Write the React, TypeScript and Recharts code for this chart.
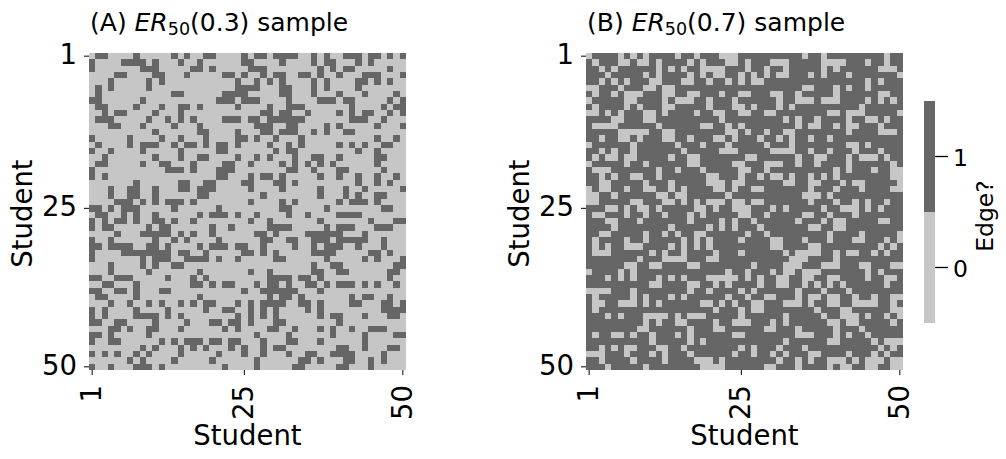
import { Bar, BarChart, Cell, Scatter, ScatterChart, XAxis, YAxis } from "recharts"

const font = "'DejaVu Sans', sans-serif"
const edgeColor = "#666666"
const noEdgeColor = "#c6c6c6"

const students = Array.from({ length: 50 }, (_, i) => i + 1)
const tickStudents = [1, 25, 50]
const edgeLevels = [1, 0]

// (A): for each student, the 0-based students they share an edge with
const sampleAEdges = [
  [1, 2, 7, 13, 15, 18, 19, 24, 26, 27, 29, 30, 31, 32, 35, 37, 40, 41, 42, 44, 45, 47, 49],
  [0, 5, 6, 7, 8, 10, 14, 17, 24, 25, 30, 35, 37, 38, 42, 44],
  [0, 8, 9, 10, 16, 17, 19, 25, 26, 27, 36, 38, 40, 41, 47],
  [4, 5, 10, 11, 15, 21, 22, 24, 27, 29, 30, 33, 34, 36, 39, 43, 44, 45, 49],
  [3, 9, 11, 23, 26, 28, 30, 35, 37, 42, 43, 45, 47],
  [1, 3, 9, 23, 24, 25, 26, 30, 31, 35, 37, 42],
  [1, 13, 14, 21, 22, 23, 24, 30, 31, 35, 39, 43, 48],
  [0, 1, 8, 20, 21, 22, 24, 25, 26, 31, 36, 37, 38, 40, 41, 47, 49],
  [1, 2, 7, 11, 14, 15, 17, 23, 28, 31, 32, 33, 41, 46, 48, 49],
  [2, 4, 5, 10, 14, 27, 28, 30, 31, 34, 39, 41, 43, 44, 47, 49],
  [1, 2, 3, 9, 12, 14, 16, 21, 22, 23, 25, 26, 28, 29, 30, 31, 32, 33, 41, 42, 43, 46],
  [3, 4, 8, 13, 17, 26, 27, 28, 31, 32, 37, 39, 45, 49],
  [10, 17, 18, 23, 27, 28, 30, 31, 32, 35, 37, 40, 41],
  [0, 6, 11, 14, 18, 23, 24, 26, 29, 33, 45, 48],
  [1, 6, 8, 9, 10, 13, 15, 16, 18, 20, 21, 23, 28, 31, 33, 39, 41, 43, 46, 47],
  [0, 3, 8, 14, 20, 21, 29, 31, 32, 42, 45],
  [2, 10, 14, 17, 18, 23, 26, 28, 32, 35, 36, 39, 45, 46],
  [1, 2, 8, 11, 12, 16, 21, 22, 25, 30, 32, 34, 36, 38, 45],
  [0, 12, 13, 14, 16, 20, 21, 22, 31, 32, 35, 39, 40, 46],
  [0, 2, 20, 21, 25, 27, 28, 30, 36, 39, 42, 45, 48],
  [7, 14, 15, 18, 19, 24, 25, 29, 30, 32, 42, 45, 47],
  [3, 6, 7, 10, 14, 15, 17, 18, 19, 25, 30, 36, 40, 43, 49],
  [3, 6, 7, 10, 17, 18, 27, 36, 40, 42, 45, 46],
  [4, 5, 6, 8, 10, 12, 13, 14, 16, 25, 30, 32, 39, 41, 42, 43, 45],
  [0, 1, 3, 5, 6, 7, 13, 20, 30, 31, 37, 46, 47],
  [1, 2, 5, 7, 10, 17, 19, 20, 21, 23, 26, 31, 34, 39, 40, 41, 42],
  [0, 2, 4, 5, 7, 10, 11, 13, 16, 25, 28, 36, 44, 48, 49],
  [0, 2, 3, 9, 11, 12, 19, 22, 28, 29, 30, 31, 37, 39, 40, 41, 45, 46, 47],
  [4, 8, 9, 10, 11, 12, 14, 16, 19, 26, 27, 29, 34, 35, 36, 37, 38, 39, 43],
  [0, 3, 10, 13, 15, 20, 27, 28, 31, 32, 35, 36, 37, 39, 40, 41, 42, 43, 46],
  [0, 1, 3, 4, 5, 6, 9, 10, 12, 17, 19, 20, 21, 23, 24, 27, 32, 35, 37, 38, 39, 42, 46],
  [0, 5, 6, 7, 8, 9, 10, 11, 12, 14, 15, 18, 24, 25, 27, 29, 35, 36, 37, 38, 44, 45, 47],
  [0, 8, 10, 11, 12, 15, 16, 17, 18, 20, 23, 29, 30, 37, 43, 45, 49],
  [3, 8, 10, 13, 14, 35, 38, 39, 48, 49],
  [3, 9, 17, 25, 28, 35, 36, 39, 40, 47, 48],
  [0, 1, 4, 5, 6, 12, 16, 18, 28, 29, 30, 31, 33, 34, 36, 47],
  [2, 3, 7, 16, 17, 19, 21, 22, 26, 28, 29, 31, 34, 35, 37, 39, 40, 41, 43, 45, 48],
  [0, 1, 4, 5, 7, 11, 12, 24, 27, 28, 29, 30, 31, 32, 36],
  [1, 2, 7, 17, 28, 30, 31, 33, 41, 43, 44, 47],
  [3, 6, 9, 11, 14, 16, 18, 19, 23, 25, 27, 28, 29, 30, 33, 34, 36, 41, 42, 46, 47, 49],
  [0, 2, 7, 12, 18, 21, 22, 25, 27, 29, 34, 36, 46, 47, 48, 49],
  [0, 2, 7, 8, 9, 10, 12, 14, 23, 25, 27, 29, 36, 38, 39, 43, 47, 48],
  [0, 1, 4, 5, 10, 15, 19, 20, 22, 23, 25, 29, 30, 39],
  [3, 4, 6, 9, 10, 14, 21, 23, 28, 29, 32, 36, 38, 41, 44, 45, 46],
  [0, 1, 3, 9, 26, 31, 38, 43, 48, 49],
  [0, 3, 4, 11, 13, 15, 16, 17, 19, 20, 22, 23, 27, 31, 32, 36, 43],
  [8, 10, 14, 16, 18, 22, 24, 27, 29, 30, 39, 40, 43, 47, 48],
  [0, 2, 4, 7, 9, 14, 20, 24, 27, 31, 34, 35, 38, 39, 40, 41, 46],
  [6, 8, 13, 19, 26, 33, 34, 36, 40, 41, 44, 46],
  [0, 3, 7, 8, 9, 11, 21, 26, 32, 33, 39, 40, 44],
]

// (B): mostly edges, so list the students each one has no edge with
const sampleBNoEdges = [
  [0, 5, 7, 9, 14, 17, 21, 22, 23, 34, 37, 47],
  [1, 5, 6, 8, 9, 11, 16, 18, 22, 23, 25, 29, 30, 31, 37, 38, 39, 40, 44, 47],
  [2, 4, 11, 13, 15, 18, 19, 20, 21, 25, 28, 31, 37, 39, 46, 47, 48],
  [3, 9, 11, 16, 18, 20, 21, 24, 26, 28, 30, 31, 35, 37, 41, 49],
  [2, 4, 6, 10, 11, 15, 16, 19, 22, 24, 26, 27, 44, 46],
  [0, 1, 5, 9, 10, 12, 13, 34, 35, 39, 41, 44],
  [1, 4, 6, 7, 8, 12, 13, 16, 17, 21, 24, 25, 29, 30, 33, 39, 46, 47],
  [0, 6, 7, 12, 14, 15, 16, 19, 23, 30, 33, 34, 35, 37, 38, 39, 44, 46, 48],
  [1, 6, 8, 12, 13, 19, 23, 24, 26, 30, 32, 43],
  [0, 1, 3, 5, 9, 10, 12, 17, 20, 21, 24, 25, 28, 29, 38, 39, 41, 42, 43, 49],
  [4, 5, 9, 10, 21, 31, 33, 36, 41, 44, 45, 47],
  [1, 2, 3, 4, 11, 18, 19, 22, 24, 33, 35, 36, 39, 41, 42, 46],
  [5, 6, 7, 8, 9, 12, 13, 22, 23, 25, 28, 31, 32, 41, 46, 47, 48],
  [2, 5, 6, 8, 12, 13, 16, 20, 21, 23, 27, 30, 32, 35, 38],
  [0, 7, 14, 18, 22, 28, 32, 41, 42, 44],
  [2, 4, 7, 15, 21, 22, 23, 29, 30, 31, 32, 35, 38, 42, 46],
  [1, 3, 4, 6, 7, 13, 16, 17, 25, 26, 33, 36, 37, 41, 43, 44, 45, 47],
  [0, 6, 9, 16, 17, 23, 24, 28, 29, 30, 33, 36, 41, 48],
  [1, 2, 3, 11, 14, 18, 24, 25, 28, 39, 41, 45, 48, 49],
  [2, 4, 7, 8, 11, 19, 20, 24, 27, 29, 30, 32, 35, 37, 39, 48, 49],
  [2, 3, 9, 13, 19, 20, 21, 23, 24, 31, 32, 35, 36, 40, 42, 43, 49],
  [0, 2, 3, 6, 9, 10, 13, 15, 20, 21, 23, 26, 27, 35, 39, 43, 48, 49],
  [0, 1, 4, 11, 12, 14, 15, 22, 34, 35, 36, 38],
  [0, 1, 7, 8, 12, 13, 15, 17, 19, 20, 21, 23, 24, 26, 27, 35, 39, 42, 44, 47],
  [3, 4, 6, 8, 9, 11, 17, 18, 20, 23, 24, 25, 29, 31, 37, 40, 41, 42, 44, 46],
  [1, 2, 6, 9, 12, 16, 18, 24, 25, 28, 34, 35, 38, 42],
  [3, 4, 8, 16, 21, 23, 26, 33, 37, 39, 40, 46, 47],
  [4, 13, 19, 21, 23, 27, 35, 36, 39, 40],
  [2, 3, 9, 12, 14, 17, 18, 25, 28, 38, 43, 49],
  [1, 6, 9, 15, 17, 19, 24, 29, 30, 34, 38, 42, 43, 47, 49],
  [1, 3, 6, 7, 8, 13, 15, 17, 19, 29, 30, 35, 36, 46, 48],
  [1, 2, 3, 10, 12, 15, 20, 24, 31, 33, 34, 35, 36, 39, 41, 42, 45, 47],
  [8, 12, 13, 14, 15, 19, 20, 32, 33, 34, 39],
  [6, 7, 10, 11, 16, 17, 26, 31, 32, 33, 37, 38, 39, 43, 44, 48, 49],
  [0, 5, 7, 22, 25, 29, 31, 32, 34, 35, 36, 44, 46],
  [3, 5, 7, 11, 13, 15, 19, 20, 21, 22, 23, 25, 27, 30, 31, 34, 35, 38, 39, 44, 47, 48],
  [10, 11, 16, 17, 20, 22, 27, 30, 31, 34, 36, 38, 40, 47],
  [0, 1, 2, 3, 7, 16, 19, 24, 26, 33, 37, 41],
  [1, 7, 9, 13, 15, 22, 25, 28, 29, 33, 35, 36, 38, 39, 42, 45, 48, 49],
  [1, 2, 5, 6, 7, 9, 11, 18, 19, 21, 23, 26, 27, 31, 32, 33, 35, 38, 39, 42, 43, 44, 45, 48],
  [1, 20, 24, 26, 27, 36, 40, 41, 48, 49],
  [3, 5, 9, 10, 11, 12, 14, 16, 17, 18, 24, 31, 37, 40, 41, 42, 44, 47, 49],
  [9, 11, 14, 15, 20, 23, 24, 25, 29, 31, 38, 39, 41, 42, 48],
  [8, 9, 16, 20, 21, 28, 29, 33, 39, 43],
  [1, 4, 5, 7, 10, 14, 16, 23, 24, 33, 34, 35, 39, 41, 44],
  [10, 16, 18, 31, 38, 39, 45, 47, 48, 49],
  [2, 4, 6, 7, 11, 12, 15, 24, 26, 30, 34, 46, 48],
  [0, 1, 2, 6, 10, 12, 16, 23, 26, 29, 31, 35, 36, 41, 45, 47],
  [2, 7, 12, 17, 18, 19, 21, 30, 33, 35, 38, 39, 40, 42, 44, 45, 46, 48, 49],
  [3, 9, 18, 19, 20, 21, 28, 29, 33, 38, 40, 41, 44, 45, 48, 49],
]

const PLOT = 317
const CELL = PLOT / 50

// split the grid in two point lists, one per colour
const toCells = (rows: number[][], listedIsEdge: boolean) => {
  const edges: { x: number; y: number }[] = []
  const noEdges: { x: number; y: number }[] = []
  students.forEach((y) => {
    students.forEach((x) => {
      const listed = rows[y - 1].includes(x - 1)
      ;(listed === listedIsEdge ? edges : noEdges).push({ x, y })
    })
  })
  return { edges, noEdges }
}

const square = (fill: string) => (props: any) => (
  <rect
    x={props.cx - CELL / 2}
    y={props.cy - CELL / 2}
    width={CELL}
    height={CELL}
    fill={fill}
    shapeRendering="crispEdges"
  />
)

const XTick = ({ x, y, payload }: any) => (
  <text
    transform={`translate(${x - 1},${y + 8}) rotate(-90)`}
    textAnchor="end"
    dominantBaseline="central"
    fontFamily={font}
    fontSize={27.5}
    fill="#000"
  >
    {payload.value}
  </text>
)

const YTick = ({ x, y, payload }: any) => (
  <text x={x - 5} y={y - 2} textAnchor="end" dominantBaseline="central" fontFamily={font} fontSize={27.5} fill="#000">
    {payload.value}
  </text>
)

function Panel({ left, letter, p, rows, listedIsEdge }: any) {
  const { edges, noEdges } = toCells(rows, listedIsEdge)
  return (
    <div style={{ position: "absolute", left, top: 0, width: 420, height: 459 }}>
      <div
        style={{
          position: "absolute",
          left: 90,
          top: 7,
          fontFamily: font,
          fontSize: 25,
          lineHeight: "32px",
          whiteSpace: "nowrap",
          color: "#000",
        }}
      >
        ({letter}) <i>ER</i>
        <span style={{ fontSize: 17.5, position: "relative", top: 4 }}>50</span>({p}) sample
      </div>
      <ScatterChart width={420} height={459} margin={{ top: 53, right: 14, bottom: 0, left: 0 }}>
        <XAxis
          type="number"
          dataKey="x"
          domain={[0.5, 50.5]}
          ticks={tickStudents}
          interval={0}
          height={89}
          axisLine={false}
          tickSize={5}
          tickLine={{ stroke: "#000", strokeWidth: 1 }}
          tick={<XTick />}
          label={{
            value: "Student",
            position: "insideBottom",
            offset: 14,
            fill: "#000",
            fontFamily: font,
            fontSize: 27.5,
          }}
        />
        <YAxis
          type="number"
          dataKey="y"
          reversed
          domain={[0.5, 50.5]}
          ticks={tickStudents}
          interval={0}
          width={89}
          axisLine={false}
          tickSize={5}
          tickLine={{ stroke: "#000", strokeWidth: 1 }}
          tick={<YTick />}
          label={{
            value: "Student",
            angle: -90,
            position: "insideLeft",
            offset: 22,
            dy: 2,
            fill: "#000",
            fontFamily: font,
            fontSize: 27.5,
            style: { textAnchor: "middle" },
          }}
        />
        <Scatter data={noEdges} shape={square(noEdgeColor)} isAnimationActive={false} />
        <Scatter data={edges} shape={square(edgeColor)} isAnimationActive={false} />
      </ScatterChart>
    </div>
  )
}

const ColorTick = ({ x, y, payload }: any) => (
  <text x={x + 3} y={y + 1} dominantBaseline="central" fontFamily={font} fontSize={23.5} fill="#000">
    {payload.value}
  </text>
)

function Colorbar() {
  const data = edgeLevels.map((edge) => ({ edge, span: 1 }))
  return (
    <div style={{ position: "absolute", left: 914, top: 91, width: 92, height: 242 }}>
      <BarChart
        width={92}
        height={242}
        layout="vertical"
        data={data}
        barCategoryGap={0}
        margin={{ top: 10, right: 0, bottom: 10, left: 10 }}
      >
        <XAxis type="number" hide domain={[0, 1]} />
        <YAxis
          type="category"
          dataKey="edge"
          orientation="right"
          width={71}
          axisLine={false}
          tickSize={13}
          tickLine={{ stroke: "#000", strokeWidth: 1.3 }}
          tick={<ColorTick />}
          label={{
            value: "Edge?",
            angle: -90,
            position: "insideRight",
            offset: 21,
            dy: 4,
            fill: "#000",
            fontFamily: font,
            fontSize: 23.5,
            style: { textAnchor: "middle" },
          }}
        />
        <Bar dataKey="span" isAnimationActive={false}>
          {data.map((d) => (
            <Cell key={d.edge} fill={d.edge ? edgeColor : noEdgeColor} />
          ))}
        </Bar>
      </BarChart>
    </div>
  )
}

export default function App() {
  return (
    <div style={{ position: "absolute", left: 0, top: 0, width: 1006, height: 459, background: "#fff" }}>
      <Panel left={0} letter="A" p="0.3" rows={sampleAEdges} listedIsEdge />
      <Panel left={497} letter="B" p="0.7" rows={sampleBNoEdges} listedIsEdge={false} />
      <Colorbar />
    </div>
  )
}
